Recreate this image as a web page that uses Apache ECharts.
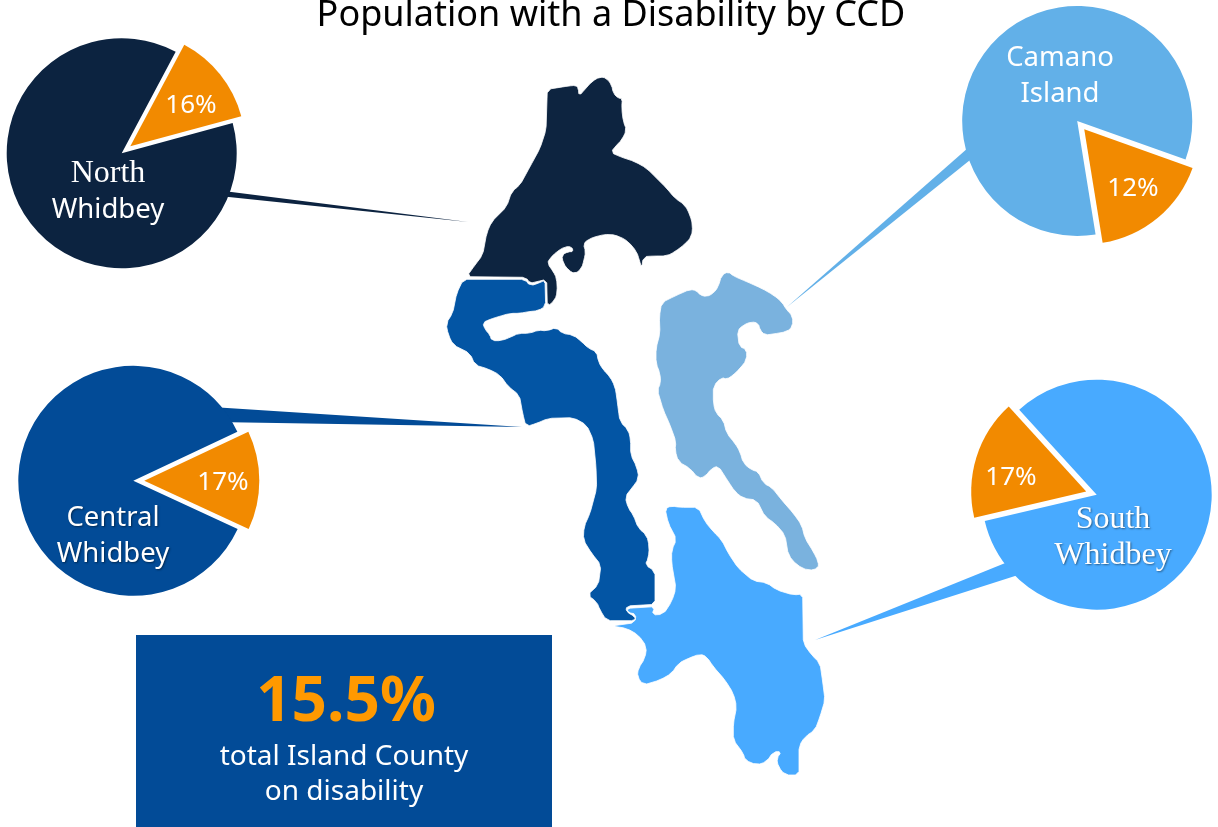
<!DOCTYPE html>
<html>
<head>
<meta charset="utf-8">
<style>html,body{margin:0;padding:0;background:#fff}#chart{width:1218px;height:827px}</style>
<script src="https://cdn.jsdelivr.net/npm/echarts@6/dist/echarts.min.js"></script>
</head>
<body>
<div id="chart"></div>
<script>
// ---- values ----
const areaNames = ['North Whidbey', 'Central Whidbey', 'Camano Island', 'South Whidbey'];
const disabilityPercent = [16, 17, 12, 17];      // printed on the orange slices
const countyTotal = '15.5%';
// share of each circle actually covered by the orange slice in the picture
const drawnSliceShare = [13, 13.9, 17, 16.9];
const sliceStartFromEast = [62, 25.2, -19.6, 193.2];
const titleText = 'Population with a Disability by CCD';
const boxLines = ['total Island County', 'on disability'];

// ---- colours ----
const pieColors = ['#0c2340', '#024b97', '#62b0e8', '#48aaff'];
const mapColors = ['#0d2440', '#0355a4', '#7ab2de', '#48aaff'];
const orange = '#f28a00';

// ---- county outlines: [origin x, origin y] + points in 1/3 px ----
const northOutline = [440, 70, [[322,58],[360,52],[385,48],[408,46],[415,55],[417,78],[435,58],[455,35],[480,20],[500,25],[515,45],[520,70],[535,85],[547,85],[545,115],[550,155],[560,180],[545,210],[530,225],[512,247],[540,260],[585,275],[620,295],[650,325],[680,355],[705,385],[735,405],[750,435],[758,465],[755,500],[735,522],[705,545],[680,558],[640,558],[610,560],[605,595],[598,570],[590,545],[565,515],[540,500],[510,492],[475,497],[445,508],[430,522],[437,545],[432,570],[425,595],[405,612],[385,600],[370,580],[365,555],[385,545],[400,545],[395,530],[375,530],[350,545],[330,565],[322,580],[340,605],[350,625],[352,665],[345,690],[322,710],[320,628],[290,635],[270,640],[258,622],[80,620],[105,585],[128,555],[140,490],[155,455],[200,410],[215,365],[240,345],[270,290],[300,235],[318,180]]];
const centralOutline = [440, 270, [[70,28],[255,28],[270,48],[300,38],[315,30],[317,108],[295,122],[265,125],[240,130],[210,130],[175,140],[150,148],[128,158],[135,178],[150,195],[155,212],[185,212],[215,200],[235,190],[270,190],[295,180],[320,183],[350,172],[365,190],[400,195],[425,215],[445,235],[470,245],[475,275],[490,300],[510,320],[525,350],[530,380],[535,420],[540,455],[565,480],[572,510],[572,555],[590,590],[597,625],[575,655],[555,680],[565,715],[580,735],[595,775],[620,795],[628,830],[625,865],[615,885],[645,903],[645,1003],[560,1008],[558,1025],[585,1040],[585,1052],[500,1052],[480,1020],[470,995],[442,975],[475,945],[483,885],[455,850],[430,810],[432,770],[450,730],[470,655],[468,590],[460,510],[440,465],[400,443],[325,445],[290,460],[258,470],[248,430],[238,375],[205,350],[180,315],[145,297],[105,285],[90,250],[40,225],[25,195],[18,160],[38,130],[50,70]]];
const camanoOutline = [640, 260, [[65,128],[105,108],[150,88],[170,92],[180,105],[200,110],[220,100],[235,80],[245,45],[265,35],[280,48],[320,65],[365,85],[400,105],[425,125],[440,150],[458,168],[458,200],[440,215],[400,222],[375,225],[360,210],[355,190],[335,185],[310,195],[292,212],[298,260],[320,268],[320,300],[300,325],[280,345],[260,358],[245,352],[220,378],[220,430],[228,460],[250,480],[260,520],[285,550],[300,575],[310,610],[335,630],[355,635],[370,670],[395,682],[425,720],[460,760],[485,795],[495,835],[520,875],[535,905],[535,925],[505,932],[470,915],[445,885],[435,825],[405,790],[375,770],[350,720],[310,715],[285,695],[265,665],[235,618],[215,625],[195,650],[175,655],[150,625],[115,605],[105,570],[108,545],[90,495],[70,450],[52,390],[62,370],[60,340],[48,310],[48,265],[60,220],[58,170]]];
const southOutline = [600, 500, [[195,25],[215,18],[240,22],[295,22],[315,65],[340,95],[365,120],[385,160],[415,205],[460,243],[500,248],[530,270],[580,285],[608,282],[610,430],[635,465],[660,490],[668,545],[675,600],[660,650],[645,690],[615,710],[597,738],[597,825],[555,825],[535,800],[530,775],[545,755],[520,755],[500,785],[470,795],[435,780],[430,760],[400,720],[400,670],[410,620],[400,580],[375,540],[340,500],[320,470],[300,462],[265,475],[235,490],[215,520],[180,540],[130,555],[112,530],[115,505],[135,475],[140,440],[115,405],[80,385],[35,378],[105,368],[108,342],[85,338],[80,325],[165,320],[155,345],[190,343],[215,305],[228,265],[215,190],[215,150],[230,118],[205,70]]];
const outlines = [northOutline, centralOutline, camanoOutline, southOutline];

// Outline corners are softened slightly, as the source shapes are rounded.
const CORNER = 3.5;
const toRing = o => {
  const pts = o[2].map(p => [o[0] + p[0] / 3, o[1] + p[1] / 3]);
  const ring = [];
  pts.forEach((p, i) => {
    [pts[(i + pts.length - 1) % pts.length], pts[(i + 1) % pts.length]].forEach(q => {
      const d = Math.hypot(q[0] - p[0], q[1] - p[1]);
      const t = Math.min(0.3, CORNER / d);
      ring.push([p[0] + (q[0] - p[0]) * t, -(p[1] + (q[1] - p[1]) * t)]);
    });
  });
  ring.push(ring[0]);
  return ring;
};
echarts.registerMap('island', {
  type: 'FeatureCollection',
  features: areaNames.map((name, i) => ({
    type: 'Feature', properties: { name },
    geometry: { type: 'Polygon', coordinates: [toRing(outlines[i])] }
  }))
});

// ---- layout ----
const pieCenters = [[121.7, 153.2], [133.3, 480.8], [1077.2, 120.9], [1096.7, 494.7]];
const pieRadius = 115;
const percentPos = [[191, 106], [223, 483], [1133, 189], [1011, 478]];
const namePos = [[108, 192], [113, 536], [1060, 76], [1113, 538]];
const nameRich = [
  '{serif|North}\n{sans|Whidbey}',
  '{sansShadow|Central}\n{sansShadow|Whidbey}',
  '{sans|Camano}\n{sans|Island}',
  '{serifShadow|South}\n{serifShadow|Whidbey}'
];
const leaders = [
  [[200, 188], [200, 194], [468, 222]],
  [[200, 406.3], [200, 421.7], [522, 427]],
  [[985, 133], [985, 148], [787, 307]],
  [[1030, 553], [1040, 568], [815, 640]]
];
const SANS = '"Noto Sans"';
const SERIF = '"Liberation Serif"';
const shadow = { textShadowColor: 'rgba(0,0,0,0.45)', textShadowBlur: 2, textShadowOffsetX: 1, textShadowOffsetY: 1 };
const textShadow = { shadowColor: 'rgba(0,0,0,0.5)', shadowBlur: 2, shadowOffsetX: 1, shadowOffsetY: 1 };

const pies = areaNames.map((name, i) => ({
  type: 'pie', name, silent: true, animation: false, z: 4,
  center: pieCenters[i], radius: pieRadius,
  startAngle: sliceStartFromEast[i], clockwise: true,
  selectedMode: 'multiple', selectedOffset: 11,
  labelLine: { show: false },
  data: [
    { name: 'With a disability', value: drawnSliceShare[i], selected: true,
      itemStyle: { color: orange }, label: { show: false } },
    { name: name, value: 100 - drawnSliceShare[i],
      itemStyle: { color: pieColors[i] },
      label: { show: true, position: 'inside', formatter: nameRich[i], color: '#fff',
        rich: {
          sans: { fontFamily: SANS, fontSize: 27.5, color: '#fff', lineHeight: 36, align: 'center' },
          serif: { fontFamily: SERIF, fontSize: 32, color: '#fff', lineHeight: 36, align: 'center' },
          sansShadow: Object.assign({ fontFamily: SANS, fontSize: 27.5, color: '#fff', lineHeight: 36, align: 'center' }, shadow),
          serifShadow: Object.assign({ fontFamily: SERIF, fontSize: 32, color: '#fff', lineHeight: 36, align: 'center' }, shadow)
        } } }
  ],
  labelLayout: p => ({ x: namePos[i][0], y: namePos[i][1], align: 'center', verticalAlign: 'middle' })
}));

const chart = echarts.init(document.getElementById('chart'), null, { renderer: 'canvas' });
chart.setOption({
  animation: false,
  backgroundColor: '#fff',
  series: [{
    type: 'map', map: 'island', silent: true, z: 2,
    aspectScale: 1, roam: false,
    left: 0, top: 0, width: 1218, height: 827,
    boundingCoords: [[0, 0], [1218, -827]],
    showLegendSymbol: false,
    label: { show: false },
    itemStyle: { borderColor: '#fff', borderWidth: 0.8 },
    data: areaNames.map((name, i) => ({ name, value: disabilityPercent[i], itemStyle: { areaColor: mapColors[i] } }))
  }].concat(pies),
  graphic: [
    ...leaders.map((pts, i) => ({ type: 'polygon', z: 1, silent: true, shape: { points: pts }, style: { fill: pieColors[i] } })),
    ...percentPos.map((pos, i) => ({ type: 'text', z: 6, silent: true, x: pos[0], y: pos[1], style: { text: disabilityPercent[i] + '%', fill: '#fff', font: '26px ' + SANS, align: 'center', verticalAlign: 'middle' } })),
    { type: 'rect', z: 5, silent: true, shape: { x: 136, y: 635, width: 416, height: 192 }, style: { fill: '#024b97' } },
    { type: 'text', z: 6, silent: true, x: 346, y: 703, style: Object.assign({ text: countyTotal, fill: '#ff9900', font: 'bold 62px ' + SANS, align: 'center', verticalAlign: 'middle' }, textShadow) },
    { type: 'text', z: 6, silent: true, x: 344, y: 757, style: Object.assign({ text: boxLines[0], fill: '#fff', font: '28px ' + SANS, align: 'center', verticalAlign: 'middle' }, textShadow) },
    { type: 'text', z: 6, silent: true, x: 344, y: 792, style: Object.assign({ text: boxLines[1], fill: '#fff', font: '28px ' + SANS, align: 'center', verticalAlign: 'middle' }, textShadow) },
    { type: 'text', z: 6, silent: true, x: 611, y: 16, style: { text: titleText, fill: '#000', font: '36px ' + SANS, align: 'center', verticalAlign: 'middle' } }
  ]
});
</script>
</body>
</html>
